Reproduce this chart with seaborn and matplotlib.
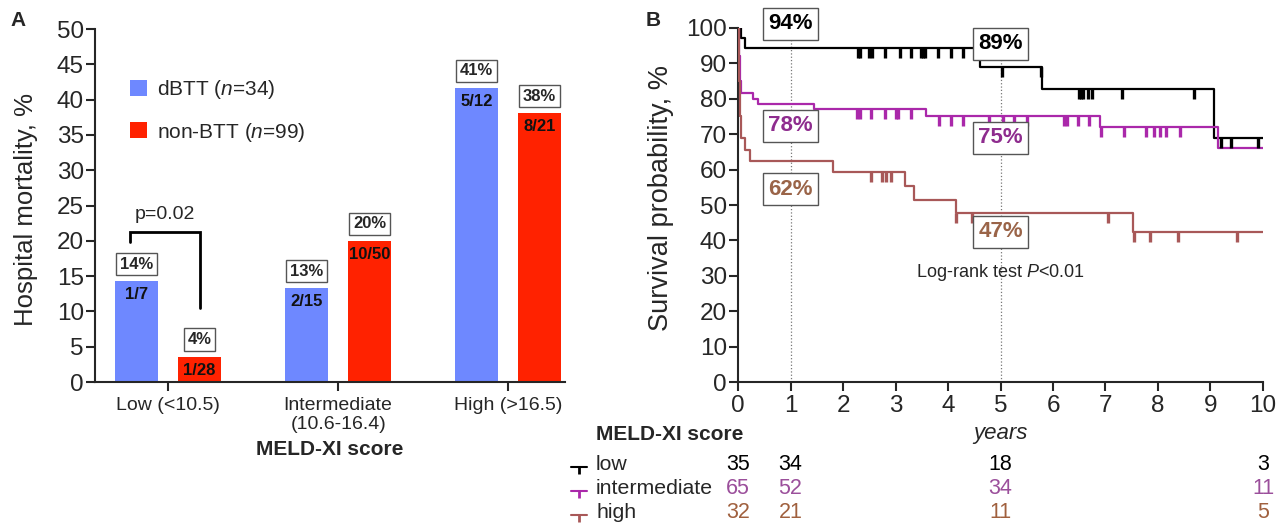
import numpy as np
import pandas as pd
import matplotlib
matplotlib.use("Agg")
import matplotlib.pyplot as plt
import matplotlib.transforms as mtransforms
from matplotlib.lines import Line2D
from matplotlib.patches import Patch
import seaborn as sns

# ---- panel A data ----
categories = ["Low (<10.5)", "Intermediate\n(10.6-16.4)", "High (>16.5)"]
dbtt_mort = [14.3, 13.3, 41.7]
nonbtt_mort = [3.6, 20.0, 38.1]
dbtt_pct = ["14%", "13%", "41%"]
nonbtt_pct = ["4%", "20%", "38%"]
dbtt_frac = ["1/7", "2/15", "5/12"]
nonbtt_frac = ["1/28", "10/50", "8/21"]

# ---- panel B data (Kaplan-Meier) ----
low_t = [0, 0.05, 0.13, 4.6, 5.79, 9.06, 10]
low_s = [100, 97.2, 94.3, 89.1, 82.7, 69.0, 69.0]
low_cens = [2.28, 2.33, 2.5, 2.55, 2.8, 3.08, 3.3, 3.48, 3.53, 3.56, 3.8, 4.05,
            4.29, 5.03, 5.77, 6.5, 6.54, 6.58, 6.66, 6.75, 7.32, 8.68, 9.2, 9.4, 9.9]
inter_t = [0, 0.01, 0.03, 0.05, 0.28, 0.38, 1.45, 3.59, 6.89, 9.14, 10]
inter_s = [100, 92.0, 85.0, 81.7, 80.0, 78.4, 77.0, 75.0, 71.9, 66.0, 66.0]
inter_cens = [2.26, 2.33, 2.54, 2.8, 3.0, 3.05, 3.3, 3.83, 4.06, 4.29, 4.79, 5.05,
              5.25, 5.5, 6.21, 6.26, 6.48, 6.68, 6.91, 7.36, 7.78, 7.93, 8.04, 8.15, 8.41]
high_t = [0, 0.01, 0.03, 0.06, 0.13, 0.22, 1.81, 3.18, 3.36, 4.15, 7.52, 10]
high_s = [100, 85.0, 75.0, 69.0, 65.6, 62.4, 59.3, 55.5, 51.5, 47.6, 42.3, 42.3]
high_cens = [2.54, 2.75, 2.81, 2.91, 4.16, 4.45, 7.04, 7.54, 7.84, 8.39, 9.5]

risk_times = [0, 1, 5, 10]
risk_low = [35, 34, 18, 3]
risk_inter = [65, 52, 34, 11]
risk_high = [32, 21, 11, 5]

pct_times = [1, 5]
pct_low = [("94%", 101.2), ("89%", 95.5)]
pct_inter = [("78%", 72.4), ("75%", 69.0)]
pct_high = [("62%", 54.4), ("47%", 42.4)]

blue = "#6E88FF"
red = "#FF2200"
c_low = "#000000"
c_inter = "#AA28AA"
c_high = "#A85858"
txt_inter = "#8E2C8E"
txt_high = "#9A6448"
num_inter = "#9B4F9B"
num_high = "#A0603E"

sns.set_style("ticks")
plt.rcParams["font.family"] = ["Liberation Sans", "DejaVu Sans"]
plt.rcParams["mathtext.fontset"] = "custom"
plt.rcParams["mathtext.rm"] = "Liberation Sans"
plt.rcParams["mathtext.it"] = "Liberation Sans:italic"

fig = plt.figure(figsize=(12.86, 5.27), dpi=100)
axA = fig.add_axes([0.0739, 0.2751, 0.3655, 0.6698])
axB = fig.add_axes([0.5739, 0.2751, 0.4082, 0.6718])

# ---------------- panel A ----------------
df = pd.DataFrame({
    "category": categories * 2,
    "mortality": dbtt_mort + nonbtt_mort,
    "group": ["dBTT"] * 3 + ["non-BTT"] * 3,
})
sns.barplot(data=df, x="category", y="mortality", hue="group",
            palette=[blue, red], saturation=1, width=0.74, gap=0.32, errorbar=None,
            linewidth=0, legend=False, ax=axA)

for cont, pcts, fracs in zip(axA.containers, [dbtt_pct, nonbtt_pct], [dbtt_frac, nonbtt_frac]):
    for bar, p, f in zip(cont, pcts, fracs):
        xc = bar.get_x() + bar.get_width() / 2
        h = bar.get_height()
        axA.text(xc, h + 2.4, p, ha="center", va="center", fontsize=12,
                 fontweight="bold",
                 bbox=dict(boxstyle="square,pad=0.22", fc="white", ec="#555555", lw=1))
        axA.text(xc, h - 1.9, f, ha="center", va="center", fontsize=12,
                 fontweight="bold", color="#111111")

# significance bracket between the two low bars
b0 = axA.containers[0][0]
b1 = axA.containers[1][0]
xl = b0.get_x() + b0.get_width() / 2 - 0.04
xr = b1.get_x() + b1.get_width() / 2
axA.plot([xl, xl, xr, xr], [19.8, 21.2, 21.2, 10.5], color="black", lw=2,
         solid_joinstyle="miter", clip_on=False)
axA.text((xl + xr) / 2, 23.8, "p=0.02", ha="center", va="center", fontsize=14)

axA.set_xlim(-0.43, 2.335)
axA.set_ylim(0, 50)
axA.set_yticks(np.arange(0, 51, 5))
axA.tick_params(axis="both", length=6.5, width=1.5, labelsize=17.5, direction="out", pad=1.5)
axA.tick_params(axis="x", labelsize=14, pad=4)
axA.set_ylabel("Hospital mortality, %", fontsize=18.5)
axA.yaxis.set_label_coords(-0.122, 0.49)
axA.set_xlabel("MELD-XI score", fontsize=15, fontweight="bold", labelpad=5)
for sp in ["left", "bottom"]:
    axA.spines[sp].set_linewidth(1.5)
sns.despine(ax=axA)

handles = [Patch(fc=blue, ec="none"), Patch(fc=red, ec="none")]
labels = [r"dBTT $\mathit{(n}$=$\mathit{34)}$", r"non-BTT $\mathit{(n}$=$\mathit{99)}$"]
axA.legend(handles, labels, loc="upper left", bbox_to_anchor=(0.035, 0.915), frameon=False,
           fontsize=15, handlelength=0.8, handleheight=0.8, handletextpad=0.5,
           labelspacing=0.95)

# ---------------- panel B ----------------
def step_at(t, s, x):
    idx = np.searchsorted(t, x, side="right") - 1
    return np.asarray(s)[idx]

for tx in pct_times:
    axB.axvline(tx, ymin=0, ymax=1, color="#777777", ls=":", lw=0.9, zorder=1)

curves = [(low_t, low_s, low_cens, c_low, "low"),
          (inter_t, inter_s, inter_cens, c_inter, "intermediate"),
          (high_t, high_s, high_cens, c_high, "high")]
for t, s, cens, col, name in curves:
    sns.lineplot(x=t, y=s, drawstyle="steps-post", color=col, lw=1.6, ax=axB,
                 estimator=None, sort=False, zorder=3)
    axB.plot(cens, step_at(t, s, np.array(cens)), ls="none", marker=3,
             ms=7, mew=2.4, color=col, zorder=4)

for group, tcol in [(pct_low, "black"), (pct_inter, txt_inter), (pct_high, txt_high)]:
    for (lbl, yv), tx in zip(group, pct_times):
        axB.text(tx, yv, lbl, ha="center", va="center", fontsize=16,
                 fontweight="bold", color=tcol, zorder=5,
                 bbox=dict(boxstyle="square,pad=0.25", fc="white", ec="#555555", lw=1))

axB.text(5, 31, r"Log-rank test $\mathit{P}$<$\mathit{0.01}$", ha="center", va="center",
         fontsize=13)

axB.set_xlim(0, 10)
axB.set_ylim(0, 100)
axB.set_xticks(range(0, 11))
axB.set_yticks(range(0, 101, 10))
axB.tick_params(axis="both", length=6.5, width=1.5, labelsize=17.5, direction="out", pad=1.5)
axB.tick_params(axis="x", pad=3)
axB.set_ylabel("Survival probability, %", fontsize=19.5)
axB.yaxis.set_label_coords(-0.122, 0.52)
axB.set_xlabel("")
for sp in ["left", "bottom"]:
    axB.spines[sp].set_linewidth(1.5)
sns.despine(ax=axB)

# number-at-risk table under panel B
tr = mtransforms.blended_transform_factory(axB.transData, fig.transFigure)
fig.text(596 / 1286, 1 - 434 / 527, "MELD-XI score", fontsize=15, fontweight="bold",
         ha="left", va="center")
axB.text(5, 1 - 434 / 527, "years", transform=tr, fontsize=16, fontstyle="italic",
         ha="center", va="center", clip_on=False)

rows = [("low", risk_low, c_low, "black", 464),
        ("intermediate", risk_inter, c_inter, num_inter, 488),
        ("high", risk_high, c_high, num_high, 512)]
for name, nums, lcol, ncol, ypx in rows:
    yf = 1 - ypx / 527
    fig.add_artist(Line2D([571 / 1286, 579 / 1286, 587 / 1286], [yf - 0.006] * 3,
                          transform=fig.transFigure, color=lcol, lw=1.5, marker=3,
                          markevery=[1], ms=5, mew=2))
    fig.text(596 / 1286, yf, name, fontsize=15.3, ha="left", va="center")
    for tx, n in zip(risk_times, nums):
        axB.text(tx, yf, str(n), transform=tr, fontsize=15.5, color=ncol,
                 ha="center", va="center", clip_on=False)

fig.text(10 / 1286, 1 - 20 / 527, "A", fontsize=15, fontweight="bold", ha="left", va="center")
fig.text(646 / 1286, 1 - 20 / 527, "B", fontsize=15, fontweight="bold", ha="left", va="center")

fig.savefig("out.png", dpi=100)
